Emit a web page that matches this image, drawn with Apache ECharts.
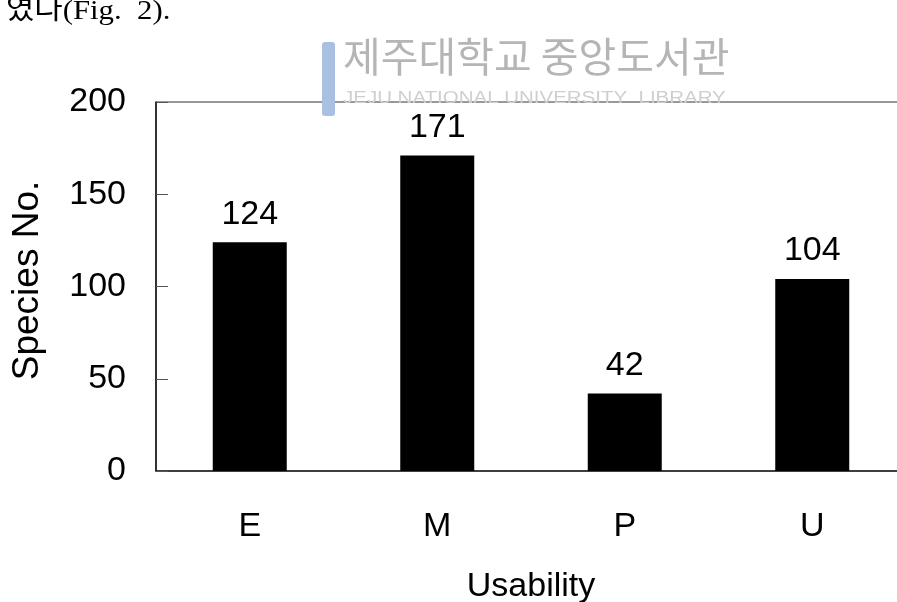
<!DOCTYPE html>
<html>
<head>
<meta charset="utf-8">
<script src="https://cdn.jsdelivr.net/npm/echarts@6/dist/echarts.min.js"></script>
<style>
html,body{margin:0;padding:0;background:#fff;overflow:hidden;}
#chart{width:897px;height:602px;}
</style>
</head>
<body>
<div id="chart"></div>
<script>
const categories = ['E', 'M', 'P', 'U'];
const speciesCounts = [124, 171, 42, 104];
const yTicks = [0, 50, 100, 150, 200];

const FONT = '"Liberation Sans", Arial, sans-serif';
const chart = echarts.init(document.getElementById('chart'), null, {renderer: 'canvas'});
chart.setOption({
  animation: false,
  backgroundColor: '#ffffff',
  grid: {
    left: 156, top: 102, bottom: 131, right: -9,
    outerBoundsMode: 'none',
    containLabel: false,
    show: true, borderColor: '#333', borderWidth: 1, backgroundColor: 'transparent'
  },
  xAxis: {
    type: 'category',
    data: categories,
    name: 'Usability',
    nameLocation: 'middle',
    nameGap: 99,
    nameTextStyle: {fontFamily: FONT, fontSize: 34, color: '#000'},
    axisLine: {lineStyle: {color: '#222', width: 1.5}},
    axisTick: {inside: true, length: 12, lineStyle: {color: '#555'}},
    axisLabel: {fontFamily: FONT, fontSize: 34, color: '#000', margin: 39}
  },
  yAxis: {
    type: 'value',
    min: yTicks[0], max: yTicks[yTicks.length - 1], interval: 50,
    name: 'Species No.',
    nameLocation: 'middle',
    nameGap: 110,
    nameTextStyle: {fontFamily: FONT, fontSize: 37, color: '#000', padding: [0, 0, 0, 12]},
    axisLine: {show: true, lineStyle: {color: '#111', width: 1.5}},
    axisTick: {show: true, inside: true, length: 12, lineStyle: {color: '#555'}},
    splitLine: {show: false},
    axisLabel: {fontFamily: FONT, fontSize: 34, color: '#000', margin: 30}
  },
  series: [{
    type: 'bar',
    data: speciesCounts,
    barWidth: 74,
    itemStyle: {color: '#000'},
    label: {show: true, position: 'top', distance: 11, fontFamily: FONT, fontSize: 34, color: '#000'}
  }],
  graphic: [
    {type: 'text', left: 6, top: -2, z: 100, scaleX: 1.1,
     style: {text: '였다(Fig.  2).', fontFamily: '"Liberation Serif", "Noto Sans CJK KR", serif', fontSize: 28, fill: '#000'}},
    {type: 'rect', left: 322, top: 42, z: 100, shape: {width: 13, height: 74, r: 3}, style: {fill: '#a9c0e2'}},
    {type: 'text', left: 343, top: 36, z: 100,
     style: {text: '제주대학교 중앙도서관', fontFamily: '"Noto Sans CJK KR", sans-serif', fontSize: 41, fill: '#b5b5b5'}},
    {type: 'text', x: 343, y: 91, z: 100, scaleX: 1.28,
     style: {text: 'JEJU NATIONAL UNIVERSITY  LIBRARY', fontFamily: FONT, fontSize: 16, fill: '#cfcfcf'}}
  ]
});
</script>
</body>
</html>
